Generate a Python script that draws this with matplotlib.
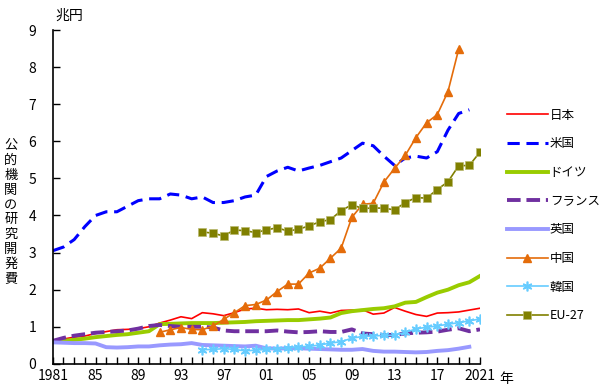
import numpy as np
import matplotlib
matplotlib.use("Agg")
import matplotlib.pyplot as plt

plt.rcParams['font.family'] = ['Noto Sans CJK JP', 'DejaVu Sans']

# data (兆円)
years_all = list(range(1981, 2022))
japan = [0.63, 0.67, 0.72, 0.75, 0.82, 0.87, 0.92, 0.93, 0.95, 1.0,
         1.1, 1.18, 1.27, 1.22, 1.38, 1.35, 1.3, 1.38, 1.48, 1.5,
         1.46, 1.47, 1.46, 1.48, 1.38, 1.42, 1.37, 1.44, 1.45, 1.46,
         1.34, 1.37, 1.52, 1.42, 1.33, 1.28, 1.37, 1.38, 1.4, 1.45, 1.5]
years_us = list(range(1981, 2021))
usa = [3.05, 3.15, 3.35, 3.7, 4.0, 4.1, 4.1, 4.25, 4.4, 4.45,
       4.45, 4.58, 4.55, 4.45, 4.5, 4.35, 4.35, 4.4, 4.5, 4.55,
       5.05, 5.2, 5.3, 5.2, 5.28, 5.35, 5.45, 5.55, 5.75, 5.95,
       5.88, 5.6, 5.35, 5.55, 5.6, 5.55, 5.72, 6.3, 6.75, 6.85]
germany = [0.6, 0.62, 0.65, 0.68, 0.72, 0.75, 0.78, 0.8, 0.84, 0.88,
           1.07, 1.08, 1.09, 1.1, 1.1, 1.1, 1.11, 1.12, 1.13, 1.15,
           1.16, 1.17, 1.18, 1.18, 1.2, 1.22, 1.25, 1.37, 1.42, 1.45,
           1.48, 1.5, 1.55, 1.65, 1.67, 1.8, 1.92, 2.0, 2.12, 2.2, 2.37]
france = [0.62, 0.7, 0.76, 0.8, 0.84, 0.86, 0.88, 0.9, 0.95, 1.02,
          1.05, 1.02, 1.0, 1.0, 1.0, 0.98, 0.9, 0.88, 0.88, 0.88,
          0.88, 0.9, 0.87, 0.85, 0.86, 0.88, 0.86, 0.86, 0.93, 0.82,
          0.8, 0.78, 0.78, 0.82, 0.84, 0.85, 0.87, 0.92, 0.96, 0.88, 0.93]
years_uk = list(range(1981, 2021))
uk = [0.58, 0.57, 0.56, 0.56, 0.55, 0.45, 0.44, 0.45, 0.47, 0.47,
      0.5, 0.52, 0.53, 0.56, 0.51, 0.5, 0.49, 0.48, 0.47, 0.49,
      0.42, 0.41, 0.42, 0.42, 0.41, 0.4, 0.39, 0.38, 0.38, 0.4,
      0.35, 0.33, 0.33, 0.32, 0.31, 0.32, 0.35, 0.37, 0.41, 0.46]
years_cn = list(range(1991, 2020))
china = [0.85, 0.92, 0.98, 0.93, 0.92, 1.02, 1.2, 1.38, 1.57, 1.6,
         1.72, 1.95, 2.15, 2.15, 2.45, 2.58, 2.85, 3.12, 3.95, 4.3,
         4.33, 4.9, 5.27, 5.62, 6.1, 6.5, 6.72, 7.34, 8.48]
years_kr = list(range(1995, 2022))
korea = [0.38, 0.39, 0.41, 0.39, 0.35, 0.37,
         0.39, 0.41, 0.42, 0.46, 0.47, 0.51, 0.56, 0.6, 0.69, 0.74,
         0.75, 0.77, 0.77, 0.85, 0.94, 0.99, 1.02, 1.07, 1.11, 1.16, 1.21]
years_eu = list(range(1995, 2022))
eu27 = [3.56, 3.52, 3.45, 3.61, 3.59, 3.54,
        3.61, 3.67, 3.58, 3.63, 3.72, 3.83, 3.89, 4.13, 4.29, 4.19,
        4.2, 4.2, 4.15, 4.35, 4.48, 4.47, 4.7, 4.91, 5.34, 5.35, 5.71]

tick_years = [1981, 1985, 1989, 1993, 1997, 2001, 2005, 2009, 2013, 2017, 2021]
tick_labels = ['1981', '85', '89', '93', '97', '01', '05', '09', '13', '17', '2021']

fig = plt.figure(figsize=(6, 3.9), dpi=100)
ax = fig.add_axes([0.088, 0.067, 0.712, 0.856])

ax.plot(years_all, japan, color='#ff0000', lw=1.2, label='日本')
ax.plot(years_us, usa, color='#0000ff', lw=2.2, dashes=(4, 2.2), label='米国')
ax.plot(years_all, germany, color='#99cc00', lw=2.8, label='ドイツ')
ax.plot(years_all, france, color='#7030a0', lw=2.8, dashes=(3.5, 1.5), label='フランス')
ax.plot(years_uk, uk, color='#9999ff', lw=2.8, label='英国')
ax.plot(years_cn, china, color='#e46c0a', lw=1.2, marker='^', ms=6, label='中国')
ax.plot(years_kr, korea, color='#66ccff', lw=1.2, marker=(6, 2, 0), ms=7, mew=1.2, label='韓国')
ax.plot(years_eu, eu27, color='#808000', lw=1.2, marker='s', ms=6, mec='#b8b870', mew=0.5, label='EU-27')

ax.set_xlim(1981, 2021)
ax.set_ylim(0, 9)
ax.set_xticks(range(1981, 2022), minor=True)
ax.set_xticks(tick_years)
ax.set_xticklabels(tick_labels, fontsize=10)
ax.set_yticks(range(0, 10))
ax.tick_params(axis='y', direction='in', length=5, width=1, labelsize=10, pad=12)
ax.tick_params(axis='x', which='both', direction='in', length=5, width=1, labelsize=10, pad=4)
for s in ['top', 'right']:
    ax.spines[s].set_visible(False)
for s in ['left', 'bottom']:
    ax.spines[s].set_linewidth(1.2)

fig.text(0.092, 0.96, '兆円', fontsize=10, ha='left', va='center')
fig.text(0.843, 0.028, '年', fontsize=10, ha='center', va='center')
fig.text(0.018, 0.455, '\n'.join('公的機関の研究開発費'), fontsize=9.5,
         ha='center', va='center', linespacing=1.18)

ax.legend(loc='upper left', bbox_to_anchor=(0.834, 0.737), bbox_transform=fig.transFigure,
          frameon=False, fontsize=9, handlelength=3.3, labelspacing=1.25,
          handletextpad=0.15, borderpad=0)

fig.savefig('out.png')
